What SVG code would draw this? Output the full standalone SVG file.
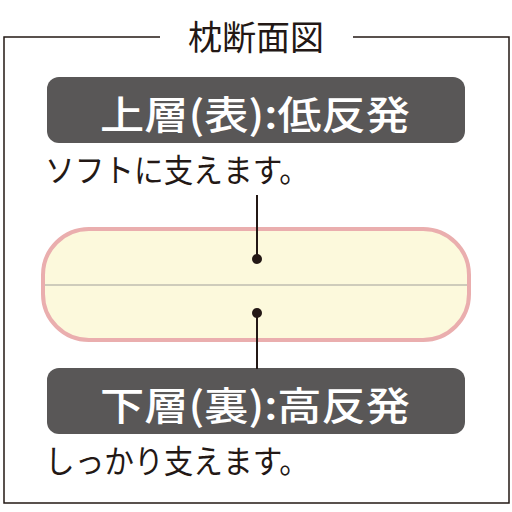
<svg xmlns="http://www.w3.org/2000/svg" width="512" height="512" viewBox="0 0 512 512">
<style>
.jp{font-family:"Noto Sans CJK JP","Noto Sans CJK SC",sans-serif;}
.lbl{fill:#ffffff;font-size:39px;font-weight:500;}
.sub{fill:#231815;font-size:32px;}
.box{fill:#595757;}
</style>
<rect width="512" height="512" fill="#ffffff"/>
<g id="frame" fill="none" stroke="#231815" stroke-width="1.5">
<polyline points="160,37 4,37 4,503 509,503 509,37 353,37"/>
</g>
<text id="title" class="jp" x="256" y="50" text-anchor="middle" font-size="34" fill="#231815">枕断面図</text>
<g id="pillow">
<rect x="43" y="229" width="426" height="111" rx="46" fill="#fcf9dc" stroke="#eaaeae" stroke-width="4"/>
<line x1="45" y1="285" x2="467" y2="285" stroke="#a0a09a" stroke-width="1.2"/>
</g>
<g id="upper">
<rect class="box" x="47" y="77" width="418" height="66" rx="12"/>
<text class="jp lbl" x="100" y="129" textLength="310" lengthAdjust="spacingAndGlyphs">上層(表):低反発</text>
<text class="jp sub" x="45" y="182" textLength="264" lengthAdjust="spacingAndGlyphs">ソフトに支えます。</text>
</g>
<g id="lower">
<rect class="box" x="47" y="368" width="418" height="66" rx="12"/>
<text class="jp lbl" x="100" y="420" textLength="310" lengthAdjust="spacingAndGlyphs">下層(裏):高反発</text>
<text class="jp sub" x="45" y="473" textLength="264" lengthAdjust="spacingAndGlyphs">しっかり支えます。</text>
</g>
<g id="connectors" stroke="#231815" stroke-width="2" fill="#231815">
<line x1="257" y1="195" x2="257" y2="259"/>
<circle cx="257" cy="259" r="5" stroke="none"/>
<line x1="257" y1="313" x2="257" y2="369"/>
<circle cx="257" cy="313" r="5" stroke="none"/>
</g>
</svg>
